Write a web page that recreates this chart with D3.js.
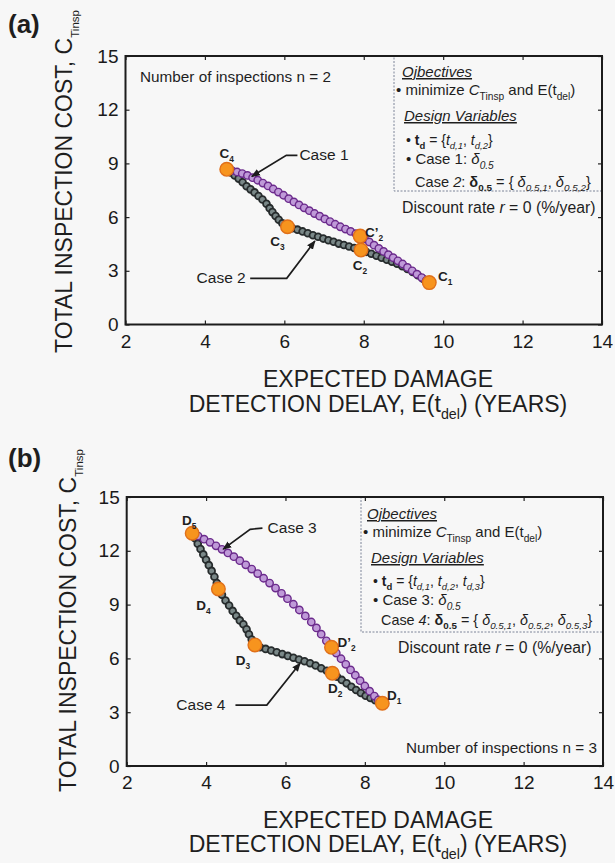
<!DOCTYPE html>
<html><head><meta charset="utf-8">
<script src="https://cdn.jsdelivr.net/npm/d3@7"></script>
<style>body{margin:0;background:#f7f7f7} svg{display:block}</style>
</head><body><svg id="c" width="615" height="863"></svg>
<script>
// ---------- data ----------
const xTickValues = [2, 4, 6, 8, 10, 12, 14];
const yTickValues = [0, 3, 6, 9, 12, 15];

// Panel (a), Case 1 (purple)
const case1X = [4.55,4.68,4.81,4.94,5.07,5.20,5.33,5.46,5.59,5.72,5.85,5.98,6.11,6.24,6.37,6.50,6.63,6.76,6.89,7.02,7.15,7.28,7.41,7.54,7.67,7.80,7.91,8.02,8.14,8.26,8.38,8.50,8.62,8.74,8.86,8.98,9.10,9.22,9.34,9.46,9.57,9.65];
const case1Y = [8.67,8.60,8.52,8.43,8.33,8.20,8.06,7.90,7.74,7.57,7.40,7.22,7.03,6.85,6.68,6.52,6.36,6.20,6.05,5.90,5.75,5.60,5.46,5.33,5.20,5.07,4.94,4.79,4.61,4.43,4.25,4.08,3.90,3.73,3.56,3.38,3.19,3.00,2.81,2.62,2.45,2.34];
// Panel (a), Case 2 (dark)
const case2X = [4.55,4.65,4.75,4.85,4.95,5.05,5.15,5.25,5.35,5.45,5.55,5.63,5.70,5.78,5.86,5.95,6.08,6.20,6.33,6.46,6.59,6.72,6.85,6.98,7.11,7.24,7.37,7.50,7.63,7.76,7.93,8.06,8.19,8.32,8.45,8.58,8.71,8.84,8.97,9.10,9.23,9.36,9.49,9.65];
const case2Y = [8.67,8.50,8.33,8.15,7.95,7.72,7.55,7.38,7.18,6.98,6.75,6.50,6.28,6.06,5.85,5.66,5.46,5.38,5.30,5.20,5.10,4.99,4.90,4.80,4.71,4.62,4.52,4.44,4.36,4.27,4.16,4.06,3.95,3.84,3.73,3.62,3.51,3.40,3.26,3.10,2.94,2.76,2.56,2.34];
// Panel (b), Case 3 (purple)
const case3X = [3.65,3.80,3.95,4.10,4.25,4.40,4.55,4.70,4.85,5.00,5.15,5.30,5.45,5.60,5.75,5.90,6.05,6.20,6.35,6.50,6.65,6.78,6.90,7.03,7.16,7.28,7.40,7.52,7.64,7.76,7.88,8.00,8.12,8.24,8.34,8.44];
const case3Y = [12.98,12.82,12.65,12.47,12.28,12.08,11.88,11.67,11.45,11.22,10.98,10.73,10.47,10.20,9.92,9.63,9.33,9.02,8.70,8.37,8.03,7.70,7.35,6.98,6.62,6.30,5.98,5.67,5.36,5.06,4.76,4.46,4.17,3.90,3.68,3.50];
// Panel (b), Case 4 (dark)
const case4X = [3.65,3.72,3.79,3.86,3.93,4.00,4.07,4.14,4.21,4.27,4.31,4.40,4.49,4.58,4.67,4.76,4.85,4.94,5.02,5.08,5.15,5.23,5.36,5.50,5.64,5.78,5.92,6.06,6.20,6.34,6.48,6.62,6.76,6.90,7.04,7.18,7.30,7.42,7.54,7.66,7.78,7.90,8.02,8.14,8.26,8.36,8.44];
const case4Y = [12.98,12.70,12.40,12.10,11.80,11.50,11.20,10.88,10.55,10.20,9.87,9.55,9.23,8.95,8.65,8.38,8.12,7.90,7.62,7.35,7.05,6.75,6.62,6.53,6.44,6.34,6.24,6.14,6.04,5.94,5.84,5.73,5.60,5.45,5.31,5.17,4.98,4.80,4.61,4.42,4.24,4.07,3.92,3.79,3.67,3.57,3.50];

// Highlighted solutions
const pointsAName = ["C|1", "C|2", "C’|2", "C|3", "C|4"];
const pointsAX = [9.65, 7.93, 7.91, 6.08, 4.55];
const pointsAY = [2.34, 4.16, 4.94, 5.46, 8.67];
const pointsBName = ["D|1", "D|2", "D’|2", "D|3", "D|4", "D|5"];
const pointsBX = [8.44, 7.18, 7.16, 5.23, 4.31, 3.65];
const pointsBY = [3.50, 5.17, 6.62, 6.75, 9.87, 12.98];

// ---------- layout ----------
const svg = d3.select("#c");
const FONT = "'Liberation Sans', Arial, Helvetica, sans-serif";
svg.attr("font-family", FONT);
svg.append("rect").attr("width", 615).attr("height", 863).attr("fill", "#f7f7f7");

const defs = svg.append("defs");
defs.append("marker").attr("id", "arr").attr("viewBox", "0 0 10 10")
  .attr("refX", 9).attr("refY", 5).attr("markerWidth", 9).attr("markerHeight", 9)
  .attr("markerUnits", "userSpaceOnUse").attr("orient", "auto")
  .append("path").attr("d", "M0,1 L10,5 L0,9 Z").attr("fill", "#1c1c1c");

function rich(g, x, y, parts, size, opts = {}) {
  const t = g.append("text").attr("x", x).attr("y", y).attr("font-size", size)
    .attr("fill", "#1e1e1e");
  if (opts.anchor) t.attr("text-anchor", opts.anchor);
  if (opts.weight) t.attr("font-weight", opts.weight);
  let shift = 0;
  parts.forEach(p => {
    const o = typeof p === "string" ? { t: p } : p;
    const want = o.sub ? size * 0.3 : 0;
    const ts = t.append("tspan").text(o.t);
    if (want !== shift) { ts.attr("dy", want - shift); shift = want; }
    if (o.sub) ts.attr("font-size", size * (o.ss || 0.68));
    if (o.i) ts.attr("font-style", "italic");
    if (o.b) ts.attr("font-weight", "bold");
    if (o.u) ts.attr("text-decoration", "underline");
  });
  return t;
}

function panel(cfg) {
  const x = d3.scaleLinear().domain([2, 14]).range([cfg.left, cfg.right]);
  const y = d3.scaleLinear().domain([0, 15]).range([cfg.bottom, cfg.top]);
  const g = svg.append("g");

  // legend box (dotted)
  g.append("rect").attr("x", cfg.box[0]).attr("y", cfg.top).attr("width", cfg.right - cfg.box[0])
    .attr("height", cfg.box[1] - cfg.top).attr("fill", "none")
    .attr("stroke", "#7d8498").attr("stroke-width", 1).attr("stroke-dasharray", "2,1.5");

  // axes
  const ax = g.append("g").attr("transform", `translate(0,${cfg.bottom})`)
    .call(d3.axisBottom(x).tickValues(xTickValues).tickSizeInner(-4).tickSizeOuter(0).tickPadding(10));
  const axT = g.append("g").attr("transform", `translate(0,${cfg.top})`)
    .call(d3.axisTop(x).tickValues(xTickValues).tickSizeInner(-4).tickSizeOuter(0).tickFormat(""));
  const ay = g.append("g").attr("transform", `translate(${cfg.left},0)`)
    .call(d3.axisLeft(y).tickValues(yTickValues).tickSizeInner(-4).tickSizeOuter(0).tickPadding(7));
  const ayR = g.append("g").attr("transform", `translate(${cfg.right},0)`)
    .call(d3.axisRight(y).tickValues(yTickValues).tickSizeInner(-4).tickSizeOuter(0).tickFormat(""));
  [ax, axT, ay, ayR].forEach(a => {
    a.select(".domain").remove();
    a.selectAll("line").attr("stroke", "#222").attr("stroke-width", 1.2);
    a.selectAll("text").attr("font-size", 19).attr("font-family", FONT).attr("fill", "#1a1a1a");
  });
  g.append("rect").attr("x", cfg.left).attr("y", cfg.top).attr("width", cfg.right - cfg.left)
    .attr("height", cfg.bottom - cfg.top).attr("fill", "none").attr("stroke", "#1c1c1c").attr("stroke-width", 2);

  // dark series
  const dk = d3.range(cfg.darkX.length);
  g.append("g").selectAll("circle").data(dk).join("circle")
    .attr("cx", i => x(cfg.darkX[i])).attr("cy", i => y(cfg.darkY[i])).attr("r", 3.4)
    .attr("fill", "#7a8888").attr("stroke", "#262b2c").attr("stroke-width", 1.8);
  // purple series
  const pu = d3.range(cfg.purpX.length);
  g.append("g").selectAll("circle").data(pu).join("circle")
    .attr("cx", i => x(cfg.purpX[i])).attr("cy", i => y(cfg.purpY[i])).attr("r", 3.7)
    .attr("fill", "#bf9ad8").attr("stroke", "#6b2a8c").attr("stroke-width", 1.4);

  // highlighted points
  const hp = d3.range(cfg.ptX.length);
  g.append("g").selectAll("circle").data(hp).join("circle")
    .attr("cx", i => x(cfg.ptX[i])).attr("cy", i => y(cfg.ptY[i])).attr("r", 6.8)
    .attr("fill", "#f7941e").attr("stroke", "#e0701a").attr("stroke-width", 1.4);
  hp.forEach(i => {
    const [main, sub] = cfg.ptName[i].split("|");
    const off = cfg.labelOff[i];
    rich(g, x(cfg.ptX[i]) + off[0], y(cfg.ptY[i]) + off[1] + 5, [{ t: main, b: true }, { t: sub, sub: true, b: true, ss: 0.62 }], 13.5, { anchor: "middle" });
  });

  // annotations (Case labels with leader arrows), in data units
  cfg.notes.forEach(n => {
    rich(g, x(n.tx), y(n.ty), [n.text], 15.5);
    g.append("path").attr("d", d3.line()(n.path.map(p => [x(p[0]), y(p[1])])))
      .attr("fill", "none").attr("stroke", "#1c1c1c").attr("stroke-width", 1.7)
      .attr("marker-end", "url(#arr)");
  });

  // legend text
  cfg.legend.forEach(l => rich(g, l.x, l.y, l.parts, l.size || 15, { weight: l.w }));

  // panel letter
  rich(g, 8, cfg.letterY, [cfg.letter], 26, { weight: "bold" });

  // y title
  const yt = g.append("g").attr("transform", `translate(${cfg.yTitleX},${cfg.yTitleY}) rotate(-90)`);
  rich(yt, 0, 0, ["TOTAL INSPECTION COST, C", { t: "Tinsp", sub: true, ss: 0.5 }], 23);
  // x title
  rich(g, 378, cfg.xTitleY[0], ["EXPECTED DAMAGE"], 23, { anchor: "middle" });
  rich(g, 378, cfg.xTitleY[1], ["DETECTION DELAY, E(t", { t: "del", sub: true, ss: 0.62 }, ") (YEARS)"], 23, { anchor: "middle" });
}

const legendA = [
  { x: 402, y: 77, parts: [{ t: "Ojbectives", i: true, u: true }] },
  { x: 396, y: 95, parts: ["• minimize ", { t: "C", i: true }, { t: "Tinsp", sub: true }, " and E(t", { t: "del", sub: true }, ")"] },
  { x: 404, y: 121, parts: [{ t: "Design Variables", i: true, u: true }] },
  { x: 406, y: 145, parts: ["• ", { t: "t", b: true }, { t: "d", sub: true, b: true }, " = {", { t: "t", i: true }, { t: "d,1", sub: true, i: true }, ", ", { t: "t", i: true }, { t: "d,2", sub: true, i: true }, "}"], size: 14 },
  { x: 406, y: 164, parts: ["• Case 1: ", { t: "δ", i: true }, { t: "0.5", sub: true, i: true }] },
  { x: 415, y: 187, parts: ["Case ", { t: "2", i: true }, ": ", { t: "δ", b: true }, { t: "0.5", sub: true, b: true }, " = { ", { t: "δ", i: true }, { t: "0.5,1", sub: true, i: true }, ", ", { t: "δ", i: true }, { t: "0.5,2", sub: true, i: true }, "}"], size: 14.6 },
  { x: 402, y: 213, parts: ["Discount rate ", { t: "r", i: true }, " = 0 (%/year)"], size: 15.8 },
  { x: 140, y: 82, parts: ["Number of inspections n = 2"], size: 15.3 }
];
const legendB = [
  { x: 367, y: 519, parts: [{ t: "Ojbectives", i: true, u: true }] },
  { x: 363, y: 537, parts: ["• minimize ", { t: "C", i: true }, { t: "Tinsp", sub: true }, " and E(t", { t: "del", sub: true }, ")"] },
  { x: 371, y: 563, parts: [{ t: "Design Variables", i: true, u: true }] },
  { x: 373, y: 586, parts: ["• ", { t: "t", b: true }, { t: "d", sub: true, b: true }, " = {", { t: "t", i: true }, { t: "d,1", sub: true, i: true }, ", ", { t: "t", i: true }, { t: "d,2", sub: true, i: true }, ", ", { t: "t", i: true }, { t: "d,3", sub: true, i: true }, "}"], size: 14 },
  { x: 373, y: 605, parts: ["• Case 3: ", { t: "δ", i: true }, { t: "0.5", sub: true, i: true }] },
  { x: 381, y: 625, parts: ["Case ", { t: "4", i: true }, ": ", { t: "δ", b: true }, { t: "0.5", sub: true, b: true }, " = { ", { t: "δ", i: true }, { t: "0.5,1", sub: true, i: true }, ", ", { t: "δ", i: true }, { t: "0.5,2", sub: true, i: true }, ", ", { t: "δ", i: true }, { t: "0.5,3", sub: true, i: true }, "}"], size: 14.4 },
  { x: 398, y: 653, parts: ["Discount rate ", { t: "r", i: true }, " = 0 (%/year)"], size: 15.8 },
  { x: 406, y: 753, parts: ["Number of inspections n = 3"], size: 15.3 }
];

panel({
  left: 125.5, right: 602, top: 56, bottom: 324.5, box: [394, 191],
  darkX: case2X, darkY: case2Y, purpX: case1X, purpY: case1Y,
  ptX: pointsAX, ptY: pointsAY, ptName: pointsAName,
  labelOff: [[16, -7], [-1, 15], [14, -4], [-10, 14], [0, -16]],
  notes: [
    { text: "Case 1", tx: 6.38, ty: 9.19, path: [[6.33, 9.45], [6.05, 9.45], [5.18, 8.27]] },
    { text: "Case 2", tx: 3.79, ty: 2.32, path: [[5.14, 2.58], [6.06, 2.58], [6.77, 4.66]] }
  ],
  legend: legendA, letter: "(a)", letterY: 33,
  yTitleX: 72, yTitleY: 353, xTitleY: [387, 412]
});
panel({
  left: 126.7, right: 603, top: 497, bottom: 766, box: [361, 632],
  darkX: case4X, darkY: case4Y, purpX: case3X, purpY: case3Y,
  ptX: pointsBX, ptY: pointsBY, ptName: pointsBName,
  labelOff: [[12, -8], [3, 15], [15, -5], [-12, 15], [-15, 16], [-3, -13]],
  notes: [
    { text: "Case 3", tx: 5.55, ty: 13.0, path: [[5.42, 13.26], [5.11, 13.20], [4.43, 12.09]] },
    { text: "Case 4", tx: 3.25, ty: 3.12, path: [[4.74, 3.40], [5.53, 3.40], [6.37, 5.73]] }
  ],
  legend: legendB, letter: "(b)", letterY: 467,
  yTitleX: 76, yTitleY: 792, xTitleY: [828, 852]
});
</script></body></html>
